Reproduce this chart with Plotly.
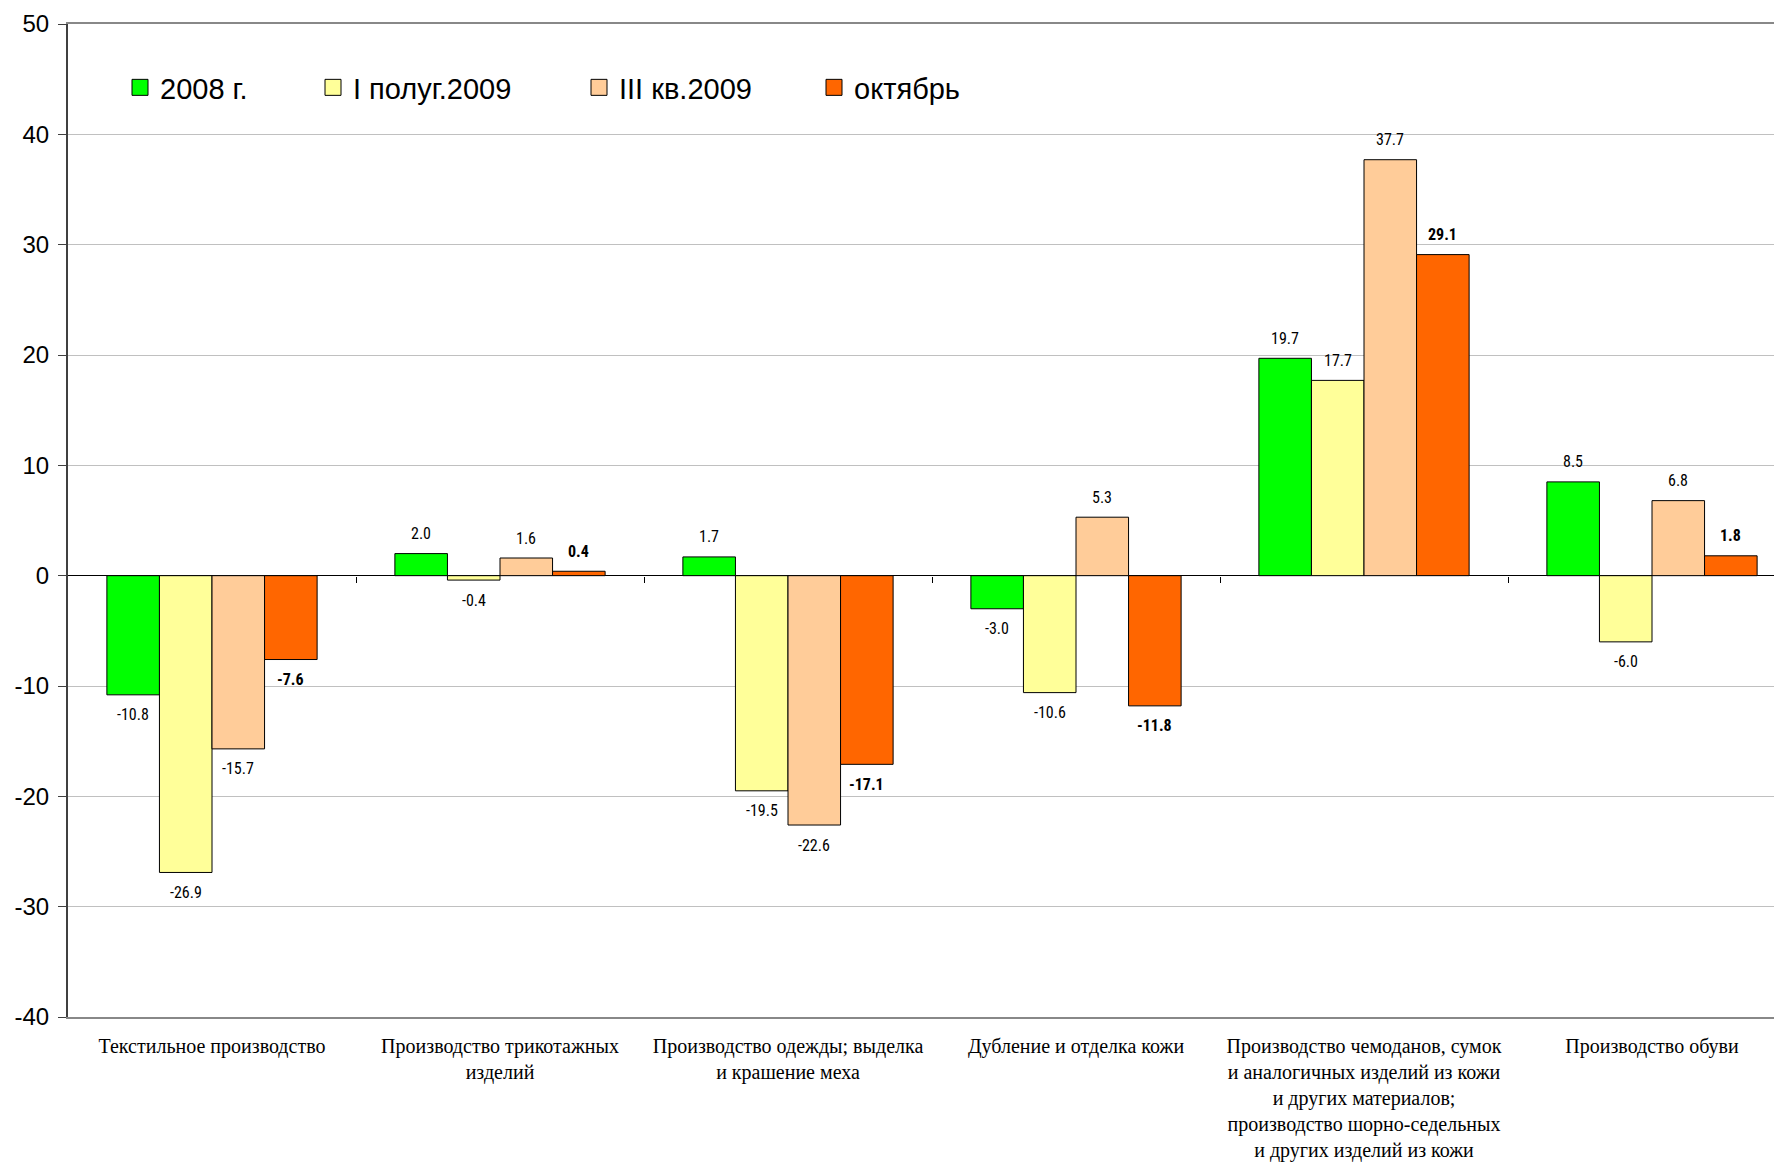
import plotly.graph_objects as go

categories = [
    "Текстильное производство",
    "Производство трикотажных<br>изделий",
    "Производство одежды; выделка<br>и крашение меха",
    "Дубление и отделка кожи",
    "Производство чемоданов, сумок<br>и аналогичных изделий из кожи<br>и других материалов;<br>производство шорно-седельных<br>и других изделий из кожи",
    "Производство обуви",
]
series_names = ["2008 г.", "I полуг.2009", "III кв.2009", "октябрь"]
v2008 = [-10.8, 2.0, 1.7, -3.0, 19.7, 8.5]
vh1_2009 = [-26.9, -0.4, -19.5, -10.6, 17.7, -6.0]
vq3_2009 = [-15.7, 1.6, -22.6, 5.3, 37.7, 6.8]
voct = [-7.6, 0.4, -17.1, -11.8, 29.1, 1.8]
y_ticks = [-40, -30, -20, -10, 0, 10, 20, 30, 40, 50]
y_tick_labels = ["-40", "-30", "-20", "-10", "0", "10", "20", "30", "40", "50"]

colors = ["#00FF00", "#FFFF99", "#FFCC99", "#FF6600"]
values = [v2008, vh1_2009, vq3_2009, voct]
bold = [False, False, False, True]

# layout geometry (figure pixels)
W, H = 1782, 1165
ML, MR, MT, MB = 60, 0, 16, 156
cat_px = 288.0
bargap = 0.27
plot_w = W - ML - MR
xr = [-0.5, -0.5 + plot_w / cat_px]
bar_px = cat_px * (1 - bargap) / len(series_names)

x_idx = list(range(len(categories)))
fig = go.Figure()
label_font = "Liberation Sans Narrow, Arial Narrow, Roboto Condensed, Liberation Sans, sans-serif"
legend_keys = ["legend", "legend2", "legend3", "legend4"]
legend_x = [112, 305, 571, 806]

annotations = []
for i, (name, vals, col, b) in enumerate(zip(series_names, values, colors, bold)):
    fig.add_trace(go.Bar(
        x=x_idx, y=vals, name=name, showlegend=False,
        marker=dict(color=col, line=dict(color="#000000", width=1)),
        hoverinfo="skip",
    ))
    # legend proxy with a larger square symbol
    fig.add_trace(go.Scatter(
        x=[None], y=[None], mode="markers", name=name, legend=legend_keys[i],
        marker=dict(symbol="square", size=16, color=col, line=dict(color="#000000", width=1)),
        hoverinfo="skip",
    ))
    for j, v in enumerate(vals):
        txt = f"{v:.1f}"
        annotations.append(dict(
            x=j, y=v, xref="x", yref="y",
            text=f"<b>{txt}</b>" if b else txt,
            showarrow=False,
            xshift=(i - (len(series_names) - 1) / 2) * bar_px,
            yshift=20 if v >= 0 else -20,
            xanchor="center", yanchor="middle",
            font=dict(family=label_font, size=16, color="#000000"),
        ))

# invisible trace to host tick marks on the zero line
fig.add_trace(go.Scatter(x=[], y=[], xaxis="x2", yaxis="y", showlegend=False, hoverinfo="skip"))

legend_font = dict(family="Liberation Sans, Arial, sans-serif", size=29, color="#000000")
legends = {}
for k, lx in zip(legend_keys, legend_x):
    legends[k] = dict(
        orientation="h", xref="container", yref="container",
        x=lx / W, y=1 - 79.5 / H, xanchor="left", yanchor="middle",
        font=legend_font, bgcolor="rgba(0,0,0,0)", borderwidth=0,
    )

fig.update_layout(
    width=W, height=H,
    margin=dict(l=ML, r=MR, t=MT, b=MB, autoexpand=False),
    paper_bgcolor="white", plot_bgcolor="white",
    barmode="group", bargap=bargap, bargroupgap=0,
    showlegend=True,
    annotations=annotations,
    xaxis=dict(
        range=xr, tickmode="array", tickvals=x_idx, ticktext=categories,
        tickfont=dict(family="Liberation Serif, Times New Roman, serif", size=20, color="#000000"),
        ticks="", showgrid=False, zeroline=False,
        showline=True, linecolor="#888888", linewidth=2, mirror=True,
        ticklabelstandoff=10, automargin=False,
    ),
    xaxis2=dict(
        overlaying="x", anchor="free", position=40 / 90, range=xr,
        tickmode="array", tickvals=[0.5, 1.5, 2.5, 3.5, 4.5], showticklabels=False,
        ticks="outside", ticklen=6, tickcolor="#000000", tickwidth=1,
        showgrid=False, zeroline=False, showline=False,
    ),
    yaxis=dict(
        range=[-40, 50], tickmode="array", tickvals=y_ticks, ticktext=y_tick_labels,
        tickfont=dict(family="Liberation Sans, Arial, sans-serif", size=24, color="#000000"),
        showgrid=True, gridcolor="#C0C0C0", gridwidth=1,
        zeroline=True, zerolinecolor="#000000", zerolinewidth=1,
        showline=True, linecolor="#404040", linewidth=2,
        ticks="outside", ticklen=8, tickcolor="#404040",
        ticklabelstandoff=4, automargin=False,
    ),
    **legends,
)

fig.write_html("out.html")
